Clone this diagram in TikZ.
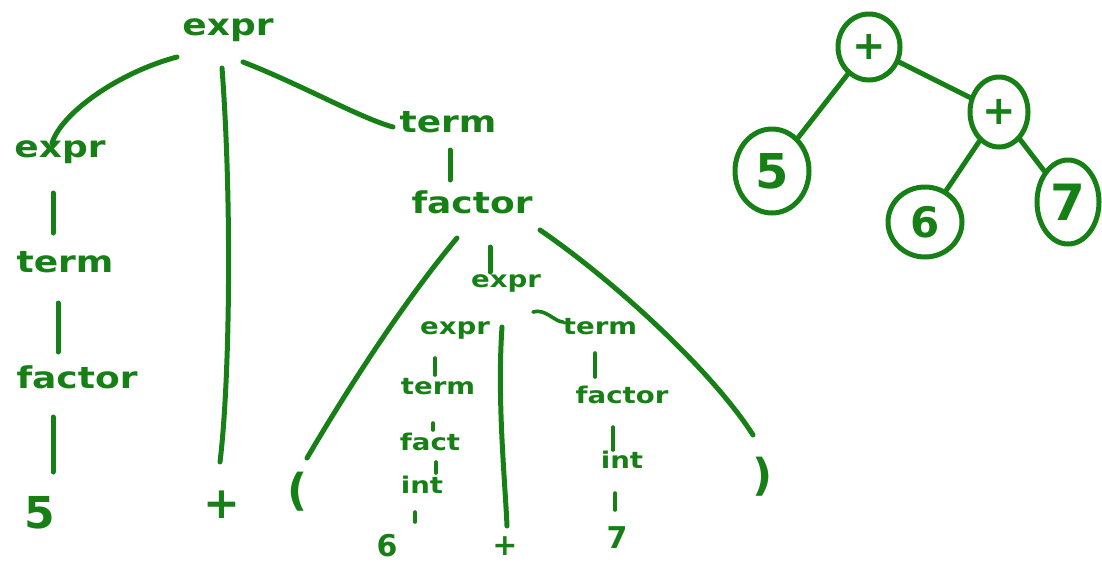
\documentclass[tikz,border=0pt]{standalone}
\usepackage{fontspec}
\usepackage{graphicx}
\setmainfont{DejaVu Sans}
\usetikzlibrary{shapes.geometric}
\definecolor{hand}{RGB}{22,128,22}
\newcommand\hw[1]{\scalebox{1.2}[1]{#1}}
\tikzset{
  lab/.style={inner sep=0pt, text=hand, font=\fontsize{30}{30}\selectfont\bfseries},
  slab/.style={inner sep=0pt, text=hand, font=\fontsize{23}{23}\selectfont\bfseries},
  sym/.style={inner sep=0pt, text=hand, font=\fontsize{44}{44}\selectfont\bfseries},
  ssym/.style={inner sep=0pt, text=hand, font=\fontsize{30}{30}\selectfont\bfseries},
  circ/.style={ellipse, draw=hand, line width=5pt, inner sep=0pt, text=hand},
  edge/.style={draw=hand, line width=5pt, line cap=round},
  tick/.style={draw=hand, line width=3.6pt, line cap=round},
}
\begin{document}
\begin{tikzpicture}[x=1pt,y=-1pt]
\useasboundingbox (0,0) rectangle (1102,566);
% parse tree labels
\node[lab] (top) at (228,30) {\hw{expr}};
\node[lab] (e1) at (60,152) {\hw{expr}};
\node[lab] (t1) at (65,262) {\hw{term}};
\node[lab] (f1) at (77,377) {\hw{factor}};
\node[lab] (t2) at (448,122) {\hw{term}};
\node[lab] (f2) at (472,202) {\hw{factor}};
\node[sym] (n5) at (40,513) {5};
\node[sym] (plus1) at (222,505) {+};
\node[sym] (lp) at (298,492) {(};
\node[sym] (rp) at (763,477) {)};
\node[slab] (e2) at (506,283) {\hw{expr}};
\node[slab] (e3) at (455,330) {\hw{expr}};
\node[slab] (t3) at (438,387) {\hw{term}};
\node[slab] (f3) at (430,442) {\hw{fact}};
\node[slab] (i3) at (422,485) {\hw{int}};
\node[slab] (t4) at (600,327) {\hw{term}};
\node[slab] (f4) at (622,395) {\hw{factor}};
\node[slab] (i4) at (622,460) {\hw{int}};
\node[ssym] (n6) at (387,546) {6};
\node[ssym] (plus2) at (505,546) {+};
\node[ssym] (n7) at (617,538) {7};
% parse tree connectors
\draw[edge] ([shift={(-51,27)}]top.center) .. controls (120,72) and (62,112) .. ([shift={(-8,-9)}]e1.center);
\draw[edge] ([shift={(-6,38)}]top.center) .. controls (232,200) and (230,380) .. ([shift={(-2,-43)}]plus1.center);
\draw[edge] ([shift={(15,32)}]top.center) .. controls (300,84) and (360,118) .. ([shift={(-55,5)}]t2.center);
\draw[edge] ([shift={(-7,41)}]e1.center) -- ([shift={(-12,-29)}]t1.center);
\draw[edge] ([shift={(-7,41)}]t1.center) -- ([shift={(-19,-25)}]f1.center);
\draw[edge] ([shift={(-24,40)}]f1.center) -- ([shift={(13,-41)}]n5.center);
\draw[edge] ([shift={(2,28)}]t2.center) -- ([shift={(-22,-22)}]f2.center);
\draw[edge] ([shift={(-15,36)}]f2.center) .. controls (405,300) and (350,385) .. ([shift={(9,-34)}]lp.center);
\draw[edge] ([shift={(18,45)}]f2.center) -- ([shift={(-16,-11)}]e2.center);
\draw[edge] ([shift={(68,28)}]f2.center) .. controls (620,285) and (715,375) .. ([shift={(-10,-42)}]rp.center);
\draw[edge] ([shift={(-4,44)}]e2.center) .. controls (497,400) and (505,480) .. ([shift={(2,-20)}]plus2.center);
\draw[tick] ([shift={(27,29)}]e2.center) .. controls (545,308) and (555,322) .. ([shift={(-37,-5)}]t4.center);
\draw[tick] ([shift={(-20,28)}]e3.center) -- ([shift={(-3,-12)}]t3.center);
\draw[tick] ([shift={(-5,36)}]t3.center) -- ([shift={(3,-12)}]f3.center);
\draw[tick] ([shift={(6,20)}]f3.center) -- ([shift={(6,31)}]f3.center);
\draw[tick] ([shift={(-7,27)}]i3.center) -- ([shift={(28,-24)}]n6.center);
\draw[tick] ([shift={(-5,26)}]t4.center) -- ([shift={(-27,-18)}]f4.center);
\draw[tick] ([shift={(-9,32)}]f4.center) -- ([shift={(-9,-10)}]i4.center);
\draw[tick] ([shift={(-7,33)}]i4.center) -- ([shift={(-2,-28)}]n7.center);
% abstract syntax tree
\node[circ, minimum width=62pt, minimum height=66pt, font=\fontsize{40}{40}\selectfont\bfseries] (P1) at (869,47) {+};
\node[circ, minimum width=58pt, minimum height=70pt, font=\fontsize{40}{40}\selectfont\bfseries] (P2) at (999,112) {+};
\node[circ, minimum width=74pt, minimum height=84pt, font=\fontsize{48}{48}\selectfont\bfseries] (C5) at (772,171) {5};
\node[circ, minimum width=74pt, minimum height=70pt, font=\fontsize{42}{42}\selectfont\bfseries] (C6) at (925,222) {6};
\node[circ, minimum width=62pt, minimum height=84pt, font=\fontsize{50}{50}\selectfont\bfseries] (C7) at (1068,202) {7};
\draw[edge] (P1) -- (C5);
\draw[edge] (P1) -- (P2);
\draw[edge] (P2) -- (C6);
\draw[edge] (P2) -- (C7);
\end{tikzpicture}
\end{document}
